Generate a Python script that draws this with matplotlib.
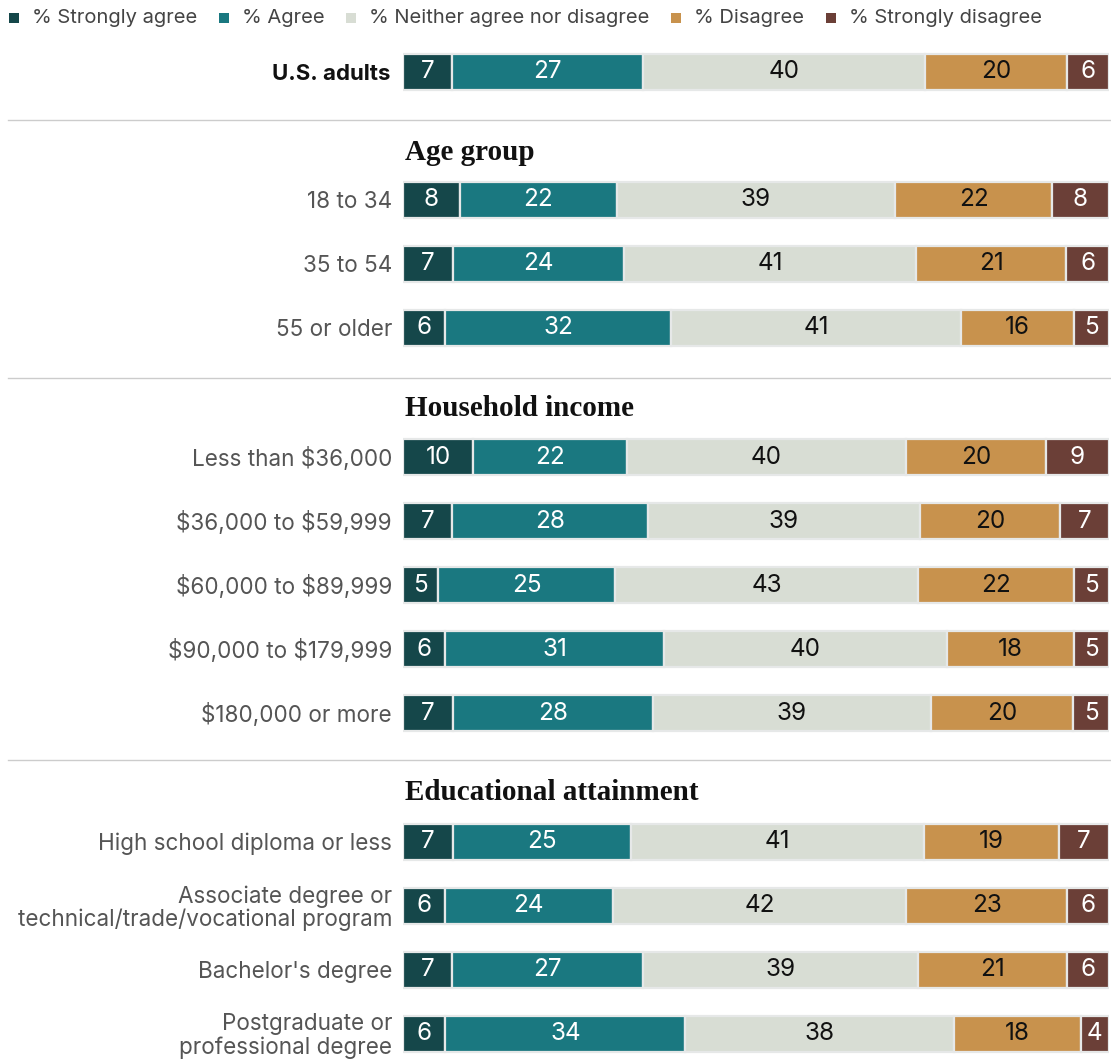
import numpy as np
import matplotlib
matplotlib.use("Agg")
import matplotlib.pyplot as plt

# data
categories = ["% Strongly agree", "% Agree", "% Neither agree nor disagree",
              "% Disagree", "% Strongly disagree"]
groups = ["", "Age group", "Household income", "Educational attainment"]
rows = [
    ["U.S. adults"],
    ["18 to 34", "35 to 54", "55 or older"],
    ["Less than \\$36,000", "\\$36,000 to \\$59,999", "\\$60,000 to \\$89,999",
     "\\$90,000 to \\$179,999", "\\$180,000 or more"],
    ["High school diploma or less",
     "Associate degree or\ntechnical/trade/vocational program",
     "Bachelor's degree", "Postgraduate or\nprofessional degree"],
]
strongly_agree = [7, 8, 7, 6, 10, 7, 5, 6, 7, 7, 6, 7, 6]
agree = [27, 22, 24, 32, 22, 28, 25, 31, 28, 25, 24, 27, 34]
neither = [40, 39, 41, 41, 40, 39, 43, 40, 39, 41, 42, 39, 38]
disagree = [20, 22, 21, 16, 20, 20, 22, 18, 20, 19, 23, 21, 18]
strongly_disagree = [6, 8, 6, 5, 9, 7, 5, 5, 5, 7, 6, 6, 4]

colors = ["#15474a", "#1a7880", "#d8ddd4", "#c8924d", "#6b3f37"]
txtcol = ["white", "white", "#111111", "#111111", "white"]

# layout (pixels)
W, H = 1111, 1059
row_y = [72, 200, 264, 328, 457, 521, 585, 649, 713, 842, 906, 970, 1034]
header_y = [None, 152, 408, 793]
divider_y = [120, 378, 760]
bar_h = 36
x0, x100 = 403, 1109
leg_x = [14, 224, 351, 676, 831]

fig = plt.figure(figsize=(W / 100, H / 100), dpi=100)
bg = fig.add_axes([0, 0, 1, 1])
bg.set_xlim(0, W)
bg.set_ylim(H, 0)
bg.axis("off")

ax = fig.add_axes([x0 / W, 0, (x100 - x0) / W, 1])
ax.set_xlim(0, 100)
ax.set_ylim(H, 0)
ax.axis("off")

series = [strongly_agree, agree, neither, disagree, strongly_disagree]
vals = np.array(series).T
for i, y in enumerate(row_y):
    share = vals[i] / vals[i].sum() * 100  # rows fill the full width
    left = 0
    for j, v in enumerate(vals[i]):
        ax.barh(y, share[j], left=left, height=bar_h, color=colors[j],
                edgecolor="#e6e8e8", linewidth=1.6)
        ax.text(left + share[j] / 2, y, str(v), ha="center", va="center",
                fontsize=17.5, color=txtcol[j], family="Inter")
        left += share[j]

labels = [lab for g in rows for lab in g]
for i, (lab, y) in enumerate(zip(labels, row_y)):
    if i == 0:
        bg.text(391, y + 2, lab, ha="right", va="center", fontsize=16,
                color="#111111", weight="bold", family="Inter")
    else:
        bg.text(392, y + 2, lab, ha="right", va="center", fontsize=16.2,
                color="#555555", family="Inter", linespacing=1.05)

for g, y in zip(groups, header_y):
    if y is None:
        continue
    bg.text(405, y, g, ha="left", va="center", fontsize=21,
            weight="bold", family="Liberation Serif", color="#111111")

for y in divider_y:
    bg.plot([8, W], [y, y], color="#cccccc", linewidth=1)

# legend
for c, name, lx in zip(colors, categories, leg_x):
    bg.scatter([lx], [18], marker="s", s=62, color=c, linewidths=0)
    bg.text(lx + 18, 18, name, ha="left", va="center", fontsize=14.5,
            color="#444444", family="Inter")

fig.savefig("out.png", dpi=100)
